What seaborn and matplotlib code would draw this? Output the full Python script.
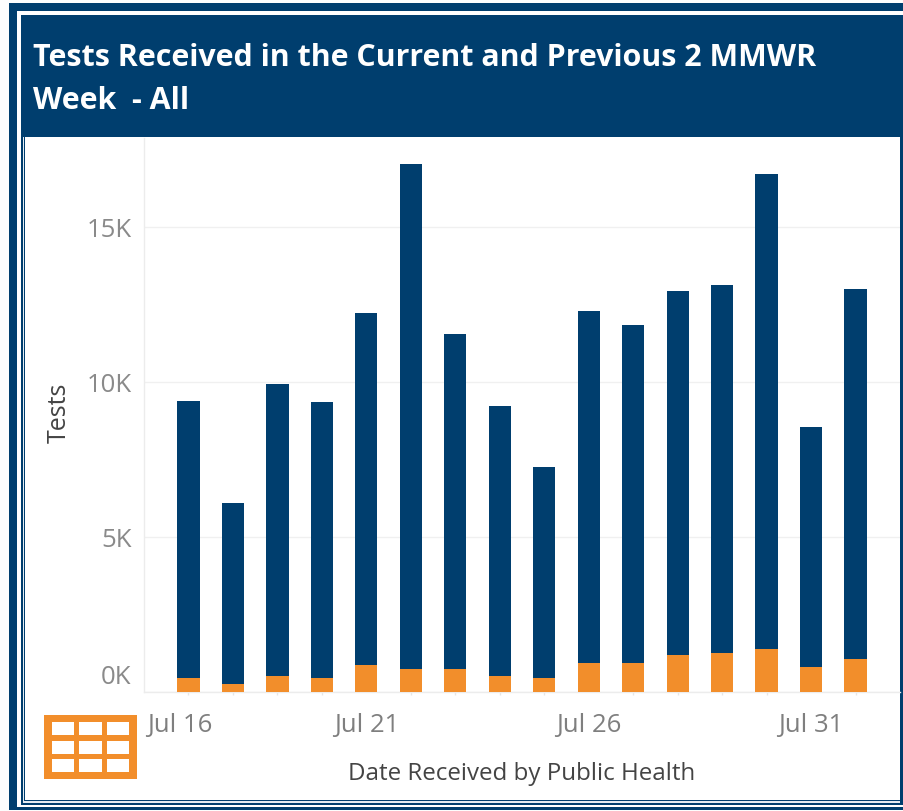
import matplotlib
matplotlib.use("Agg")
import matplotlib.pyplot as plt
from matplotlib.patches import Rectangle
from matplotlib.transforms import ScaledTranslation
import seaborn as sns
import pandas as pd

dates = ["Jul 17","Jul 18","Jul 19","Jul 20","Jul 21","Jul 22","Jul 23","Jul 24",
         "Jul 25","Jul 26","Jul 27","Jul 28","Jul 29","Jul 30","Jul 31","Aug 1"]
total_tests = [9400,6110,9920,9340,12230,17030,11540,9210,7270,12290,11850,12950,13130,16710,8560,13010]
positive_tests = [450,260,500,450,870,740,740,500,450,930,930,1200,1250,1380,800,1050]
tick_labels = ["Jul 16","Jul 21","Jul 26","Jul 31"]
tick_positions = [-1,4,9,14]
y_ticks = [0,5000,10000,15000]
y_labels = ["0K","5K","10K","15K"]

NAVY = "#003e6e"
ORANGE = "#f28e2b"
W, H = 904, 812
sns.set_theme(style="white")
plt.rcParams["font.family"] = ["Open Sans", "DejaVu Sans"]

fig = plt.figure(figsize=(W/100, H/100), dpi=100, facecolor="#fdfdfd")

bg = fig.add_axes([0,0,1,1], zorder=0)
bg.set_xlim(0,W); bg.set_ylim(H,0); bg.axis("off")
def box(x0,y0,x1,y1,c,ax=bg,z=1):
    ax.add_patch(Rectangle((x0,y0),x1-x0,y1-y0,fc=c,ec="none",zorder=z))
box(9,4,904,811,NAVY)
box(17,12,904,808,"white")
box(21,16,904,806,NAVY)
box(23.3,138,900,803.5,"#e4ebf1")
box(24.5,138,900,802,NAVY)
box(25.5,138,900,801,"white")

bg.text(33,58,"Tests Received in the Current and Previous 2 MMWR",color="white",fontsize=21.9,fontweight="bold",va="center",ha="left")
bg.text(33,101,"Week  - All",color="white",fontsize=21.9,fontweight="bold",va="center",ha="left")

box(44,716,137,780,ORANGE,z=2)
for cx0,cx1 in ((52,74),(79,102),(107,129)):
    for cy0,cy1 in ((723,736),(742,755),(760,773)):
        box(cx0,cy0,cx1,cy1,"white",z=3)

px0, px1, py0, py1 = 144, 900, 139, 693
ax = fig.add_axes([px0/W, 1-py1/H, (px1-px0)/W, (py1-py0)/H], zorder=2)
ax.patch.set_alpha(0)
df = pd.DataFrame({"date":dates,"total":total_tests,"positive":positive_tests})
sns.barplot(data=df,x="date",y="total",color=NAVY,saturation=1,width=0.5,linewidth=0,ax=ax,zorder=3)
sns.barplot(data=df,x="date",y="positive",color=ORANGE,saturation=1,width=0.5,linewidth=0,ax=ax,zorder=4)
ax.set_xlim(-1,16)
ax.set_ylim(0,17870)
for s in ("top","right"):
    ax.spines[s].set_visible(False)
for s in ("left","bottom"):
    ax.spines[s].set_color("#ececec"); ax.spines[s].set_linewidth(1)
ax.set_yticks(y_ticks); ax.set_yticklabels(y_labels,fontsize=18.5,color="#8a8a8a")
ax.tick_params(axis="y",length=8,width=1,color="#eeeeee",pad=1)
ax.yaxis.grid(True,color="#f0f0f0",lw=1); ax.set_axisbelow(True)
ax.set_xticks(tick_positions)
ax.set_xticklabels([""]*len(tick_positions))
ax.set_xticks([i for i in range(16) if i not in tick_positions], minor=True)
ax.tick_params(axis="x",which="major",length=7,color="#e6e6e6",width=1)
ax.tick_params(axis="x",which="minor",length=2,color="#e6e6e6",width=1,bottom=True)
ax.set_xlabel(""); ax.set_ylabel("")
# the zero label sits above its gridline in the reference
zero = ax.get_yticklabels()[0]
zero.set_verticalalignment("bottom")
zero.set_transform(zero.get_transform() + ScaledTranslation(0, 3/100, fig.dpi_scale_trans))

for lab,cx,ha,off in zip(tick_labels,tick_positions,["left","center","center","center"],[3,0,0,0]):
    ax.annotate(lab,xy=(cx,0),xycoords=("data","axes fraction"),xytext=(off*0.72,-33*0.72),
                textcoords="offset points",ha=ha,va="center",fontsize=18.5,color="#7f7f7f")
bg.text(522,774,"Date Received by Public Health",fontsize=17.4,color="#444444",ha="center",va="center")
bg.text(59,413,"Tests",fontsize=18,color="#444444",ha="center",va="center",rotation=90)

fig.savefig("out.png",dpi=100,facecolor=fig.get_facecolor())
